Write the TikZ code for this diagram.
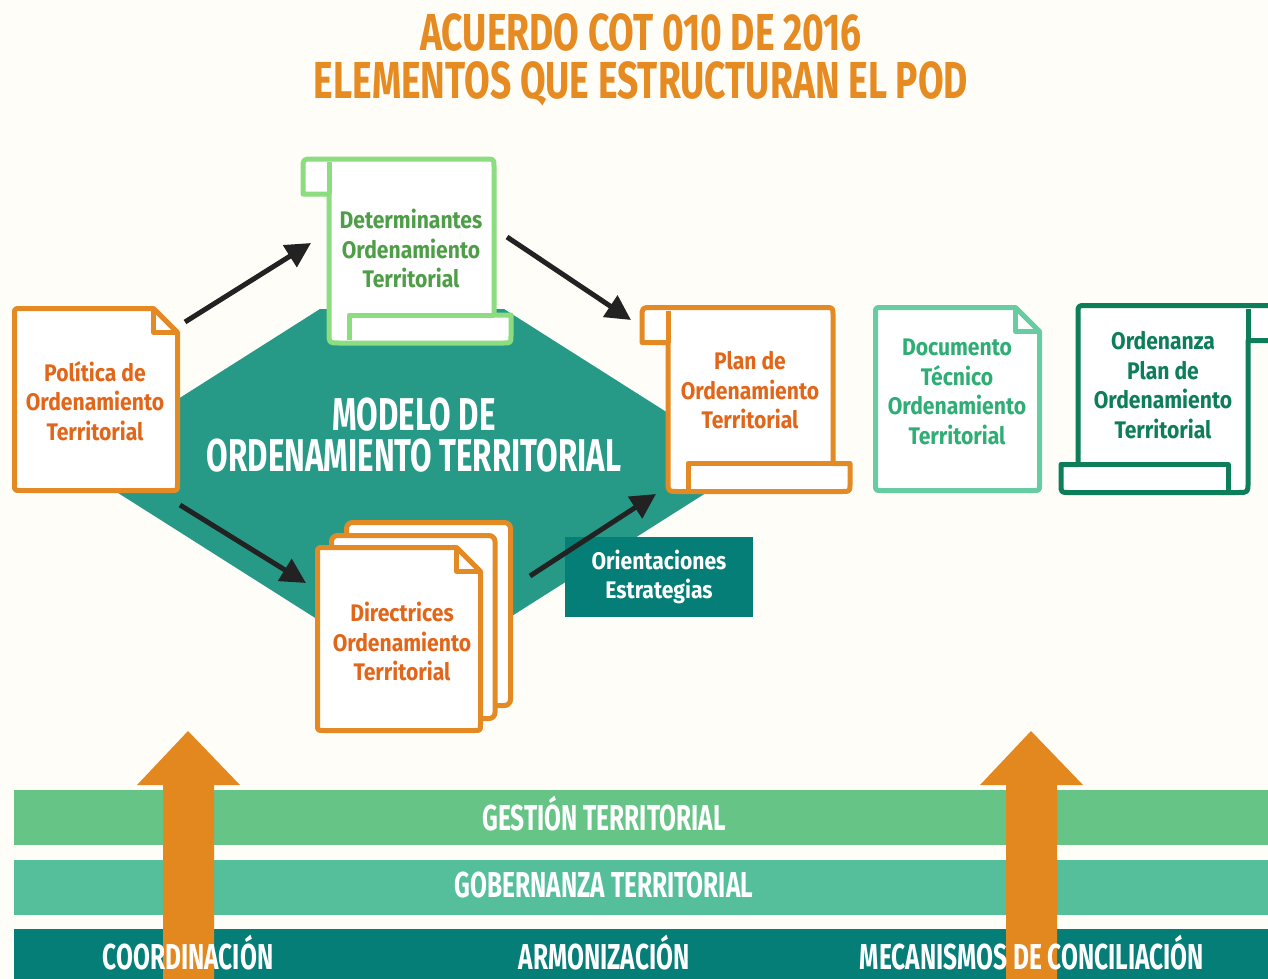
\documentclass[tikz,border=0pt]{standalone}
\usepackage{fontspec}
\setmainfont{Fira Sans}
\newfontfamily\headfont[FakeStretch=0.68]{Fira Sans}
\newfontfamily\titlefont[FakeStretch=0.715]{Fira Sans}
\newfontfamily\docfont[FakeStretch=0.88]{Fira Sans}
\usetikzlibrary{arrows.meta}

\definecolor{paper}{HTML}{FEFDF7}
\definecolor{titleorange}{HTML}{E68A22}
\definecolor{lineorange}{HTML}{E38A24}
\definecolor{textorange}{HTML}{E2661A}
\definecolor{lightgreen}{HTML}{8CDC80}
\definecolor{textgreen}{HTML}{4E9E47}
\definecolor{mint}{HTML}{68CCA2}
\definecolor{textmint}{HTML}{2EAE74}
\definecolor{darkgreen}{HTML}{0E7D59}
\definecolor{hexteal}{HTML}{279A87}
\definecolor{boxteal}{HTML}{047E77}
\definecolor{gestion}{HTML}{66C486}
\definecolor{gobernanza}{HTML}{55BF9B}
\definecolor{arrowink}{HTML}{222222}
\definecolor{bigarrow}{HTML}{E3881F}

% sheet with a folded corner, origin at its top left
\newcommand{\docsheet}[3]{%
  \filldraw[sheet,draw=#3,fill=white] (0,6) .. controls (0,0) .. (6,0) -- ({#1-24},0) -- (#1,24)
    -- (#1,{#2-6}) .. controls (#1,#2) .. ({#1-6},#2) -- (6,#2) .. controls (0,#2) .. (0,{#2-6}) -- cycle;
  \draw[sheet,draw=#3] ({#1-24},0) -- ({#1-24},24) -- (#1,24);}
% rolled sheet, origin at the top left of its body
\newcommand{\scrollsheet}[3]{%
  \filldraw[sheet,draw=#3,fill=white] (-26,35) -- (-26,10) .. controls (-26,0) .. (-16,0)
    -- ({#1-8},0) .. controls (#1,0) .. (#1,8) -- (#1,{#2-28}) -- ({#1+17},{#2-28})
    -- ({#1+17},{#2-8}) .. controls ({#1+17},#2) .. ({#1+9},#2) -- (10,#2)
    .. controls (0,#2) .. (0,{#2-10}) -- (0,35) -- cycle;
  \draw[sheet,draw=#3] (0,3) -- (0,35);
  \draw[sheet,draw=#3] (#1,{#2-28}) -- (20,{#2-28}) -- (20,{#2-3});}

\begin{document}
\begin{tikzpicture}[x=1pt, y=-1pt,
  sheet/.style={line width=5pt, line join=round},
  flow/.style={draw=arrowink, line width=5pt, -{Triangle[length=25pt,width=25pt,fill=arrowink]}},
  doctext/.style={font=\docfont\bfseries\fontsize{24}{29.5}\selectfont, align=center},
  headtext/.style={font=\headfont\bfseries\fontsize{#1}{#1}\selectfont, align=center},
  bandtext/.style={headtext=36, text=white, inner sep=0pt}]
\useasboundingbox (0,0) rectangle (1268,979);
\fill[paper] (0,0) rectangle (1268,979);

\node[font=\titlefont\bfseries\fontsize{52}{52}\selectfont, align=center, text=titleorange] (title) at (641,60) {ACUERDO COT 010 DE 2016\\[-4pt]ELEMENTOS QUE ESTRUCTURAN EL POD};

% modelo
\fill[hexteal] (74,465) -- (320,309) -- (504,309) -- (750,465) -- (504,621) -- (320,621) -- cycle;
\node[headtext=46, text=white] (modelo) at (414,435) {MODELO DE\\[-5pt]ORDENAMIENTO TERRITORIAL};

% sheets
\begin{scope}[shift={(14.5,308.5)}] \docsheet{163}{182}{lineorange} \end{scope}
\begin{scope}[shift={(329,159)}] \scrollsheet{165}{184}{lightgreen} \end{scope}
\begin{scope}[shift={(668,307.5)}] \scrollsheet{165}{184}{lineorange} \end{scope}
\begin{scope}[shift={(875.5,307.5)}] \docsheet{164}{183}{mint} \end{scope}
\begin{scope}[shift={(1248,305.5)}, xscale=-1] \scrollsheet{170}{187}{darkgreen} \end{scope}
\filldraw[sheet, draw=lineorange, fill=white, rounded corners=6pt] (346.5,522.5) rectangle (510.5,705.5);
\filldraw[sheet, draw=lineorange, fill=white, rounded corners=6pt] (331.5,535.5) rectangle (495,718.5);
\begin{scope}[shift={(317.5,547.5)}] \docsheet{163}{183}{lineorange} \end{scope}

\node[doctext, text=textorange] (pol) at (95,401) {Política de\\Ordenamiento\\Territorial};
\node[doctext, text=textgreen] (det) at (411,248.5) {Determinantes\\Ordenamiento\\Territorial};
\node[doctext, text=textorange] (plan) at (750,390.5) {Plan de\\Ordenamiento\\Territorial};
\node[doctext, text=textorange] (dir) at (402,641.5) {Directrices\\Ordenamiento\\Territorial};
\node[doctext, text=textmint] (tec) at (957,392) {Documento\\Técnico\\Ordenamiento\\Territorial};
\node[doctext, text=darkgreen] (ord) at (1163,385) {Ordenanza\\Plan de\\Ordenamiento\\Territorial};
\node[doctext, text=white, fill=boxteal, minimum width=188pt, minimum height=80pt] (ori) at (659,577) {Orientaciones\\Estrategias};

\draw[flow] ([shift={(90,-79)}]pol.center) -- ([shift={(-100,-5.5)}]det.center);
\draw[flow] ([shift={(96,-11.5)}]det.center) -- ([shift={(-119,-70.5)}]plan.center);
\draw[flow] ([shift={(85,104)}]pol.center) -- ([shift={(-96,-58.5)}]dir.center);
\draw[flow] ([shift={(128,-65.5)}]dir.center) -- ([shift={(-94,103.5)}]plan.center);

% bands
\fill[gestion] (14,790) rectangle (1268,845);
\fill[gobernanza] (14,860) rectangle (1268,915);
\fill[boxteal] (14,929) rectangle (1268,979);
\fill[bigarrow] (163,979) -- (163,785) -- (137,785) -- (188,731) -- (240,785) -- (214,785) -- (214,979) -- cycle;
\fill[bigarrow] (1006,979) -- (1006,785) -- (980,785) -- (1031,731) -- (1083,785) -- (1057,785) -- (1057,979) -- cycle;
\node[bandtext] (gest) at (604,814) {GESTIÓN TERRITORIAL};
\node[bandtext] (gob) at (604,885) {GOBERNANZA TERRITORIAL};
\node[bandtext] (coord) at (188,953) {COORDINACIÓN};
\node[bandtext] (armon) at (604,953) {ARMONIZACIÓN};
\node[bandtext] (conc) at (1032,953) {MECANISMOS DE CONCILIACIÓN};
\end{tikzpicture}
\end{document}
